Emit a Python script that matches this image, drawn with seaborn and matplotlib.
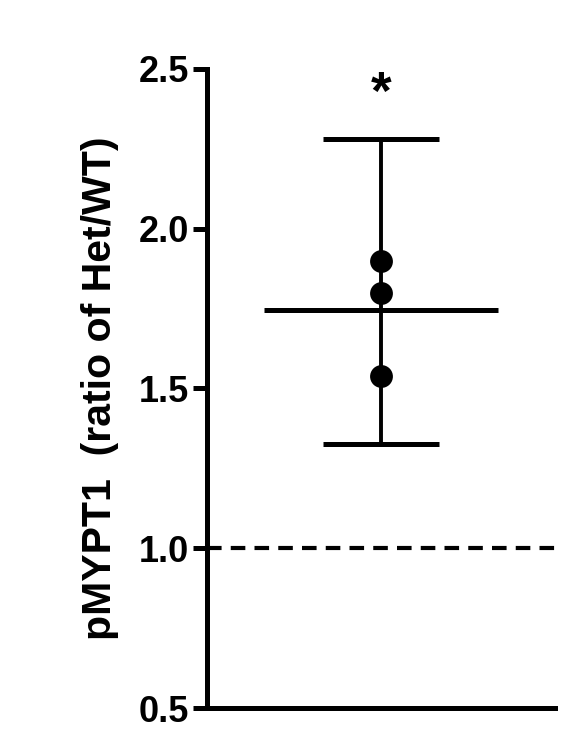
import matplotlib
matplotlib.use("Agg")
import matplotlib.pyplot as plt
import seaborn as sns
import numpy as np
import pandas as pd

# Data
ratios = [1.90, 1.80, 1.54]
mean_ratio = 1.745
ci_low = 1.325
ci_high = 2.28
yticks = [0.5, 1.0, 1.5, 2.0, 2.5]
ylabel = "pMYPT1  (ratio of Het/WT)"
star_y = 2.42

sns.set_style("ticks")
plt.rcParams['font.family'] = ['Liberation Sans', 'DejaVu Sans']
plt.rcParams['font.weight'] = 'bold'
plt.rcParams.update({
    "axes.edgecolor": "black",
    "axes.labelcolor": "black",
    "text.color": "black",
    "ytick.color": "black",
    "xtick.color": "black",
})

df = pd.DataFrame({"x": [0] * len(ratios), "ratio": ratios})

fig = plt.figure(figsize=(5.64, 7.41), dpi=100)
ax = fig.add_axes([0.367, 0.0445, 0.617, 0.8625])

lw = 3.6

# Dashed reference line at 1.0
ax.axhline(1.0, color="black", lw=3.0, ls=(0, (3.5, 2.2)), zorder=1)

# Error bar (CI) with caps
ax.vlines(0, ci_low, ci_high, color="black", lw=2.8, zorder=2)
ax.hlines([ci_low, ci_high], -0.333, 0.333, color="black", lw=lw, zorder=2)

# Mean line
ax.hlines(mean_ratio, -0.67, 0.67, color="black", lw=lw, zorder=3)

# Individual points
sns.scatterplot(data=df, x="x", y="ratio", color="black", s=270,
                edgecolor="black", linewidth=0, ax=ax, zorder=4, legend=False)

ax.text(0, star_y, "*", ha="center", va="center", fontsize=38, fontweight="bold")

ax.set_xlim(-1, 1)
ax.set_ylim(0.5, 2.5)
ax.set_yticks(yticks)
ax.set_yticklabels([f"{t:.1f}" for t in yticks], fontsize=26, fontweight="bold")
ax.set_xticks([])
ax.set_xlabel("")
ax.set_ylabel(ylabel, fontsize=29.5, fontweight="bold", labelpad=14)

sns.despine(ax=ax)
for side in ["left", "bottom"]:
    ax.spines[side].set_linewidth(lw)
ax.spines["left"].set_bounds(0.5, 2.5)
ax.tick_params(axis="y", length=10, width=lw, pad=3)

fig.savefig("out.png", dpi=100)
